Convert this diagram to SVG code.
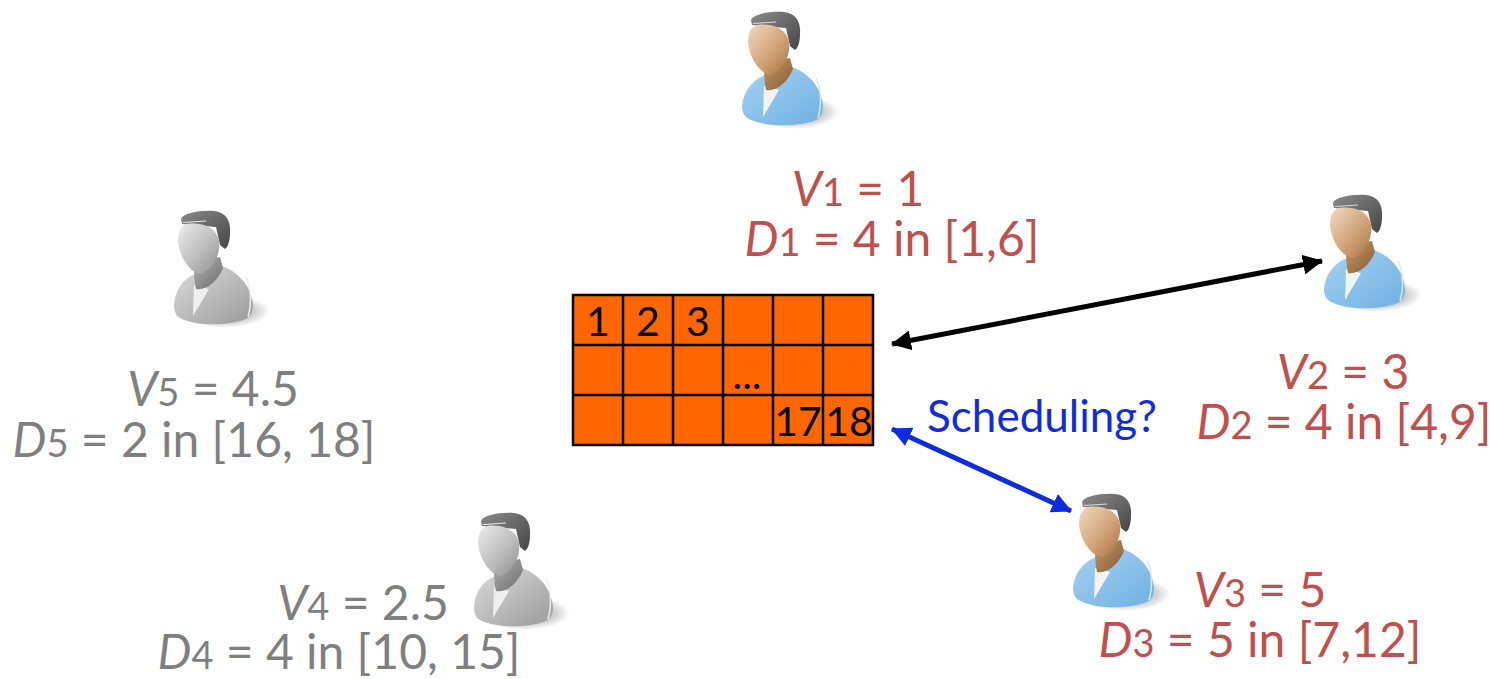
<svg xmlns="http://www.w3.org/2000/svg" width="1490" height="679" viewBox="0 0 1490 679">
<style>
text{font-family:Lato,"Liberation Sans",sans-serif}
.lab{font-size:48px;text-anchor:middle}
.red{fill:#c0504d}
.gry{fill:#7f7f7f}
.i{font-style:italic}
.sub{font-size:38px}
.cell{font-size:41px;fill:#000;text-anchor:middle}
.grid{fill:none;stroke:#000;stroke-width:2.5}
.con{fill:none;stroke-width:5}
</style>
<defs>
<linearGradient id="skin" x1="0" y1="0" x2="1" y2="1"><stop offset="0" stop-color="#f2dac2"/><stop offset=".55" stop-color="#d2a47a"/><stop offset="1" stop-color="#a87040"/></linearGradient>
<linearGradient id="neck" x1="0" y1="0" x2="1" y2="1"><stop offset="0" stop-color="#c49a6c"/><stop offset="1" stop-color="#8a5a30"/></linearGradient>
<linearGradient id="shirt" x1="0" y1="0" x2="1" y2="1"><stop offset="0" stop-color="#a6d2f0"/><stop offset="1" stop-color="#6fb0e4"/></linearGradient>
<linearGradient id="hair" x1="0" y1="0" x2="1" y2="1"><stop offset="0" stop-color="#8a8a8a"/><stop offset="1" stop-color="#454545"/></linearGradient>
<linearGradient id="gskin" x1="0" y1="0" x2="1" y2="1"><stop offset="0" stop-color="#ececec"/><stop offset=".55" stop-color="#bdbdbd"/><stop offset="1" stop-color="#8e8e8e"/></linearGradient>
<linearGradient id="gneck" x1="0" y1="0" x2="1" y2="1"><stop offset="0" stop-color="#b0b0b0"/><stop offset="1" stop-color="#6e6e6e"/></linearGradient>
<linearGradient id="gshirt" x1="0" y1="0" x2="1" y2="1"><stop offset="0" stop-color="#dcdcdc"/><stop offset="1" stop-color="#9a9a9a"/></linearGradient>
<radialGradient id="shadow"><stop offset="0.6" stop-color="#999" stop-opacity=".55"/><stop offset="1" stop-color="#999" stop-opacity="0"/></radialGradient>
<marker id="ak" markerWidth="4.5" markerHeight="4" refX="3.8" refY="2" orient="auto-start-reverse" markerUnits="strokeWidth"><path d="M0 0L4 2L0 4Z" fill="#000"/></marker>
<marker id="ab" markerWidth="4.5" markerHeight="4" refX="3.8" refY="2" orient="auto-start-reverse" markerUnits="strokeWidth"><path d="M0 0L4 2L0 4Z" fill="#0f2be0"/></marker>
<g id="colour">
<ellipse cx="74" cy="112" rx="46" ry="17" fill="url(#shadow)"/>
<path d="M22 106C23 92 32 80 45 75L72 67C88 73 101 86 103 106C103 113 100 118 96 120C76 128 40 127 26 117C23 114 22 110 22 106Z" fill="url(#shirt)"/>
<path d="M96 78C101 88 102 104 98 118" fill="none" stroke="#d5eaf8" stroke-width="1.5"/>
<path d="M44 86L43 117L59 90Z" fill="#f2f3f3"/>
<path d="M44 62L70 58L73 69C68 82 56 92 46 90C44 82 44 72 44 62Z" fill="url(#neck)"/>
<path d="M31 20C33 14 50 11 64 12C76 13 81 22 80 34C80 42 78 48 75 50L70 46L66 28L32 25Z" fill="url(#hair)"/>
<path d="M33 23.500L56 22" stroke="#dcdcdc" stroke-width="1" fill="none"/>
<path d="M37 25C52 23 66 28 69 42C71 56 62 71 51 75C38 73 29 56 28 42C28 33 31 27 37 25Z" fill="url(#skin)"/>
</g>
<g id="grey">
<ellipse cx="74" cy="112" rx="46" ry="17" fill="url(#shadow)"/>
<path d="M24 106C25 92 32 80 45 75L72 67C88 73 101 86 103 106C103 113 100 118 96 120C76 128 40 127 27 117C25 114 24 110 24 106Z" fill="url(#gshirt)"/>
<path d="M96 78C101 88 102 104 98 118" fill="none" stroke="#eee" stroke-width="1.5"/>
<path d="M44 86L43 117L59 90Z" fill="#efefef"/>
<path d="M44 62L70 58L73 69C68 82 56 92 46 90C44 82 44 72 44 62Z" fill="url(#gneck)"/>
<path d="M31 20C33 14 50 11 64 12C76 13 81 22 80 34C80 42 78 48 75 50L70 46L66 28L32 25Z" fill="url(#hair)"/>
<path d="M33 23.500L56 22" stroke="#eee" stroke-width="1" fill="none"/>
<path d="M37 25C52 23 66 28 69 42C71 56 62 71 51 75C38 73 29 56 28 42C28 33 31 27 37 25Z" fill="url(#gskin)"/>
</g>
</defs>
<g id="connectors">
<path class="con" stroke="#000" d="M892 344L1322 261" marker-start="url(#ak)" marker-end="url(#ak)"/>
<path class="con" stroke="#0f2be0" d="M892 429L1071 511" marker-start="url(#ab)" marker-end="url(#ab)"/>
</g>
<g id="schedule">
<rect x="573" y="295" width="300" height="150" fill="#ff6600"/>
<path class="grid" d="M573 295H873V445H573ZM623 295V445M673 295V445M723 295V445M773 295V445M823 295V445M573 345H873M573 395H873"/>
<text class="cell" x="598" y="336">1</text>
<text class="cell" x="648" y="336">2</text>
<text class="cell" x="698" y="336">3</text>
<text class="cell" x="747" y="389">...</text>
<text class="cell" x="798" y="436">17</text>
<text class="cell" x="849" y="436">18</text>
</g>
<text id="connector-label" x="1042" y="432" font-size="44" fill="#0f2be0" text-anchor="middle">Scheduling?</text>
<g id="user1">
<use href="#colour" x="720" y="0"/>
<text class="lab red" x="858" y="206"><tspan class="i">V</tspan><tspan class="sub">1</tspan> = 1</text>
<text class="lab red" x="892" y="256"><tspan class="i">D</tspan><tspan class="sub">1</tspan> = 4 in [1,6]</text>
</g>
<g id="user2">
<use href="#colour" x="1302" y="183"/>
<text class="lab red" x="1343" y="389"><tspan class="i">V</tspan><tspan class="sub">2</tspan> = 3</text>
<text class="lab red" x="1344" y="439"><tspan class="i">D</tspan><tspan class="sub">2</tspan> = 4 in [4,9]</text>
</g>
<g id="user3">
<use href="#colour" x="1051" y="482"/>
<text class="lab red" x="1260" y="607"><tspan class="i">V</tspan><tspan class="sub">3</tspan> = 5</text>
<text class="lab red" x="1260" y="657"><tspan class="i">D</tspan><tspan class="sub">3</tspan> = 5 in [7,12]</text>
</g>
<g id="user4">
<use href="#grey" x="450" y="501"/>
<text class="lab gry" x="363" y="620"><tspan class="i">V</tspan><tspan class="sub">4</tspan> = 2.5</text>
<text class="lab gry" x="339" y="669"><tspan class="i">D</tspan><tspan class="sub">4</tspan> = 4 in [10, 15]</text>
</g>
<g id="user5">
<use href="#grey" x="150" y="199"/>
<text class="lab gry" x="213" y="406"><tspan class="i">V</tspan><tspan class="sub">5</tspan> = 4.5</text>
<text class="lab gry" x="194" y="457"><tspan class="i">D</tspan><tspan class="sub">5</tspan> = 2 in [16, 18]</text>
</g>
</svg>
